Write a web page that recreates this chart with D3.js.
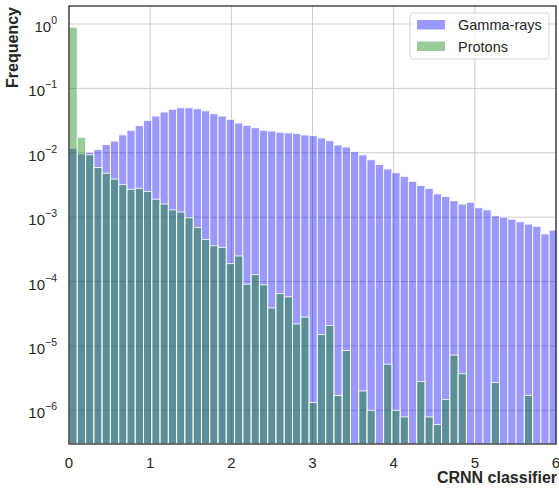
<!DOCTYPE html>
<html>
<head>
<meta charset="utf-8">
<script src="https://cdn.jsdelivr.net/npm/d3@7"></script>
<style>
  body { margin: 0; background: #fff; }
  text { font-family: "Liberation Sans", Arial, sans-serif; fill: #262626; }
</style>
</head>
<body>
<div id="chart"></div>
<script>
// histogram bin width (in classifier units) and per-bin frequencies
var binWidth = 0.102;
var gamma = [
    0.0117, 0.0096, 0.0102, 0.0112, 0.0134, 0.0152, 0.019, 0.0223, 0.0263, 0.0318,
    0.0372, 0.043, 0.0475, 0.050, 0.050, 0.0484, 0.0449, 0.0404, 0.0372, 0.0331,
    0.029, 0.0267, 0.0245, 0.0223, 0.0218, 0.0208, 0.0203, 0.0199, 0.0189, 0.0185,
    0.0170, 0.0154, 0.0132, 0.0123, 0.0104, 0.0093, 0.0078, 0.0066, 0.0056, 0.0049,
    0.0043, 0.0036, 0.0031, 0.0028, 0.0023, 0.0021, 0.0018, 0.0016, 0.0017, 0.0014,
    0.0013, 0.00105, 0.0010, 0.00093, 0.00085, 0.00078, 0.00072, 0.00055, 0.00063
];
var protons = [
    0.89, 0.0174, 0.0093, 0.0059, 0.0048, 0.0039, 0.0032, 0.0027, 0.0028, 0.0025,
    0.0019, 0.0016, 0.0013, 0.0012, 0.00098, 0.00069, 0.00045, 0.00036, 0.00034, 0.00019,
    0.00025, 9.1e-5, 1.28e-4, 8.9e-5, 3.9e-5, 6.5e-5, 5.8e-5, 2.2e-5, 2.8e-5, 1.32e-6,
    1.5e-5, 2.08e-5, 1.7e-6, 8.5e-6, 0, 2.0e-6, 1.0e-6, 0, 5.2e-6, 1.0e-6,
    7.9e-7, 0, 2.8e-6, 7.9e-7, 6.0e-7, 1.47e-6, 7.2e-6, 3.7e-6, 0, 0,
    0, 2.7e-6, 0, 0, 0, 1.7e-6, 0, 0, 0
];
var xTicks = [0, 1, 2, 3, 4, 5, 6];
var yTicks = [0, -1, -2, -3, -4, -5, -6]; // exponents
var seriesNames = ['Gamma-rays', 'Protons'];

var W = 559, H = 491;
var margin = { top: 6, right: 3, bottom: 47, left: 69 };
var width = W - margin.left - margin.right;
var height = H - margin.top - margin.bottom;

var x = d3.scaleLinear().domain([0, 6]).range([0, width]);
var y = d3.scaleLog().domain([3.0e-7, 1.903]).range([height, 0]);

var svg = d3.select('#chart').append('svg')
    .attr('width', W)
    .attr('height', H);

svg.append('defs').append('clipPath').attr('id', 'clip')
    .append('rect').attr('width', width).attr('height', height);

var g = svg.append('g')
    .attr('transform', `translate(${margin.left}, ${margin.top})`);

// grid
g.append('g').selectAll('line').data(xTicks).join('line')
    .attr('x1', d => x(d)).attr('x2', d => x(d))
    .attr('y1', 0).attr('y2', height)
    .attr('stroke', '#cccccc').attr('stroke-width', 1);
g.append('g').selectAll('line').data(yTicks).join('line')
    .attr('x1', 0).attr('x2', width)
    .attr('y1', d => y(Math.pow(10, d))).attr('y2', d => y(Math.pow(10, d)))
    .attr('stroke', '#cccccc').attr('stroke-width', 1);

// bars
function drawBars(values, color) {
    g.append('g').attr('clip-path', 'url(#clip)')
        .selectAll('rect')
        .data(values.map((v, i) => ({ i: i, v: v })).filter(d => d.v > 0))
        .join('rect')
        .attr('x', d => x(d.i * binWidth))
        .attr('width', x(binWidth) - x(0))
        .attr('y', d => y(d.v))
        .attr('height', d => height - y(d.v))
        .attr('fill', color)
        .attr('fill-opacity', 0.4)
        .attr('stroke', '#fff')
        .attr('stroke-opacity', 0.85)
        .attr('stroke-width', 1);
}
drawBars(gamma, 'blue');
drawBars(protons, 'green');

// frame
g.append('rect')
    .attr('width', width).attr('height', height)
    .attr('fill', 'none')
    .attr('stroke', '#262626')
    .attr('stroke-width', 1.25);

// x tick labels
g.append('g').selectAll('text').data(xTicks).join('text')
    .attr('x', d => x(d))
    .attr('y', height + 24)
    .attr('text-anchor', 'middle')
    .style('font-size', '15px')
    .text(d => d);

// y tick labels: 10^n
var yl = g.append('g').selectAll('text').data(yTicks).join('text')
    .attr('x', -12)
    .attr('y', d => y(Math.pow(10, d)) + 8)
    .attr('text-anchor', 'end');
yl.append('tspan').style('font-size', '15px').text('10');
yl.append('tspan').style('font-size', '10.5px')
    .attr('dy', -8)
    .text(d => d === 0 ? '0' : '\u2212' + (-d));

// axis labels
svg.append('text')
    .attr('x', margin.left + width + 1)
    .attr('y', 483)
    .attr('text-anchor', 'end')
    .style('font-size', '16px')
    .style('font-weight', 'bold')
    .text('CRNN classifier');

svg.append('text')
    .attr('transform', 'rotate(-90)')
    .attr('x', -margin.top - 1)
    .attr('y', 18)
    .attr('text-anchor', 'end')
    .style('font-size', '16px')
    .style('font-weight', 'bold')
    .text('Frequency');

// legend
var legend = svg.append('g').attr('transform', 'translate(410, 13)');
legend.append('rect')
    .attr('width', 139).attr('height', 46)
    .attr('rx', 3)
    .attr('fill', '#fff').attr('fill-opacity', 0.8)
    .attr('stroke', '#d6d6d6').attr('stroke-width', 1);
var colors = ['blue', 'green'];
seriesNames.forEach(function (name, i) {
    legend.append('rect')
        .attr('x', 7).attr('y', 7 + i * 21.5)
        .attr('width', 28).attr('height', 9.5)
        .attr('fill', colors[i]).attr('fill-opacity', 0.4);
    legend.append('text')
        .attr('x', 48).attr('y', 17 + i * 21.5)
        .style('font-size', '14.5px')
        .text(name);
});
</script>
</body>
</html>
